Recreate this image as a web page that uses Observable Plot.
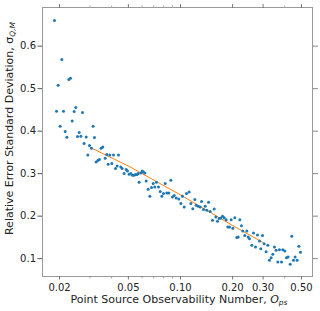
<!DOCTYPE html>
<html><head><meta charset="utf-8">
<script src="https://cdn.jsdelivr.net/npm/d3@7"></script>
<script src="https://cdn.jsdelivr.net/npm/@observablehq/plot@0.6"></script>
<style>body{margin:0;background:#fff}</style>
</head><body><div id="chart"></div>
<script>
const obsNumber = [
0.01871,0.01922,0.01965,0.02018,0.02063,0.02109,0.02157,0.02205,0.02264,0.02315,
0.02367,0.02430,0.02485,0.02541,0.02598,0.02656,0.02715,0.02776,0.02851,0.02915,
0.02980,0.03060,0.03129,0.03185,0.03256,0.03329,0.03404,0.03480,0.03558,0.03670,
0.03753,0.03820,0.03906,0.04011,0.04101,0.04212,0.04306,0.04383,0.04521,0.04602,
0.04726,0.04854,0.04941,0.05051,0.05165,0.05280,0.05399,0.05495,0.05619,0.05694,
0.05770,0.05899,0.06005,0.06112,0.06222,0.06334,0.06505,0.06651,0.06800,0.06952,
0.07108,0.07267,0.07463,0.07630,0.07801,0.07976,0.08155,0.08338,0.08562,0.08793,
0.08990,0.09192,0.09440,0.09781,0.1005,0.1027,0.1050,0.1083,0.1122,0.1148,
0.1178,0.1210,0.1232,0.1265,0.1299,0.1323,0.1358,0.1389,0.1420,0.1452,
0.1484,0.1531,0.1565,0.1600,0.1636,0.1673,0.1710,0.1749,0.1788,0.1836,
0.1877,0.1920,0.1962,0.2006,0.2060,0.2116,0.2154,0.2202,0.2251,0.2292,
0.2353,0.2417,0.2460,0.2504,0.2583,0.2641,0.2712,0.2785,0.2860,0.2911,
0.2977,0.3043,0.3125,0.3195,0.3267,0.3340,0.3415,0.3491,0.3569,0.3649,
0.3731,0.3832,0.3900,0.4005,0.4095,0.4187,0.4300,0.4396,0.4495,0.4595,
0.4721,0.4827,0.4935];
const relErrSD = [
0.6604,0.4469,0.5082,0.4116,0.5686,0.4469,0.3991,0.3857,0.5215,0.5246,
0.4242,0.4462,0.4556,0.3873,0.3967,0.3881,0.4438,0.3708,0.3865,0.3441,
0.3661,0.3598,0.4116,0.3849,0.3276,0.3308,0.3331,0.3598,0.3630,0.3363,
0.3449,0.3221,0.3441,0.3237,0.3441,0.3119,0.3182,0.3441,0.3159,0.3119,
0.3002,0.3096,0.3064,0.2986,0.3002,0.2962,0.2962,0.2978,0.2978,0.3002,
0.2797,0.3017,0.3064,0.3041,0.3017,0.2829,0.2633,0.2468,0.2672,0.2766,
0.2688,0.2797,0.2688,0.2578,0.2468,0.2531,0.2766,0.2546,0.2546,0.2845,
0.2452,0.2484,0.2429,0.2405,0.2295,0.2468,0.2217,0.2531,0.2570,0.2295,
0.2177,0.2389,0.2256,0.2232,0.2217,0.2342,0.2154,0.2232,0.2138,0.2327,
0.2107,0.1903,0.2170,0.1981,0.1879,0.1942,0.1958,0.1997,0.1965,0.1918,
0.1746,0.1746,0.1918,0.1714,0.1965,0.1495,0.1510,0.1918,0.1777,0.1652,
0.1542,0.1652,0.1510,0.1471,0.1314,0.1604,0.1275,0.1557,0.1416,0.1235,
0.1542,0.1353,0.1165,0.1314,0.0961,0.1024,0.1102,0.1275,0.1196,0.0922,
0.1212,0.0922,0.1212,0.1181,0.1024,0.1039,0.0867,0.1526,0.0961,0.1039,
0.0961,0.1290,0.1149];
const fitX = [0.03, 0.05, 0.1, 0.2, 0.3];
const fitY = [0.362, 0.318, 0.250, 0.178, 0.138];
const xTickValues = [0.02, 0.05, 0.1, 0.2, 0.3, 0.5];
const xTickLabels = ["0.02", "0.05", "0.10", "0.20", "0.30", "0.50"];
const xMinorTicks = [0.03, 0.04, 0.06, 0.07, 0.08, 0.09, 0.4];
const yTickValues = [0.1, 0.2, 0.3, 0.4, 0.5, 0.6];
const xLabel = "Point Source Observability Number, ";
const xLabelSym = "O";
const xLabelSub = "ps";
const yLabel = "Relative Error Standard Deviation, σ";
const yLabelSub = "Q,M";

const points = obsNumber.map((x, i) => ({x, y: relErrSD[i]}));
const fit = fitX.map((x, i) => ({x, y: fitY[i]}));
const xTicks = xTickValues.map((v, i) => ({v, label: xTickLabels[i]}));

const chart = Plot.plot({
  width: 320, height: 311,
  marginLeft: 42, marginRight: 8, marginTop: 7, marginBottom: 35,
  x: {type: "log", domain: [0.01595, 0.579]},
  y: {domain: [0.058, 0.691]},
  style: {fontFamily: "DejaVu Sans", fontSize: "10px", color: "#222", background: "#fff"},
  marks: [
    Plot.frame({stroke: "#999"}),
    Plot.axisX(xTickValues, {anchor: "bottom", tickSize: 3.5, fill: "none", label: null, stroke: "#777"}),
    Plot.axisX(xMinorTicks, {anchor: "bottom", tickSize: 2.3, fill: "none", label: null, stroke: "#999"}),
    Plot.text(xTicks, {x: "v", text: "label", frameAnchor: "bottom", lineAnchor: "top", dy: 7, fill: "#222"}),
    Plot.axisX(xTickValues, {anchor: "top", tickSize: 4, fill: "none", label: null, stroke: "#777"}),
    Plot.axisX(xMinorTicks, {anchor: "top", tickSize: 2.5, fill: "none", label: null, stroke: "#aaa"}),
    Plot.axisY(yTickValues, {anchor: "left", tickSize: 4.5, tickPadding: 2, tickFormat: d => d.toFixed(1), label: null, stroke: "#555", fill: "#222"}),
    Plot.axisY(yTickValues, {anchor: "right", tickSize: 5, fill: "none", label: null, stroke: "#888"}),
    Plot.line(fit, {x: "x", y: "y", stroke: "#ff7f0e", strokeWidth: 1}),
    Plot.dot(points, {x: "x", y: "y", r: 1.5, fill: "#1f77b4", stroke: "none"})
  ]
});
document.getElementById("chart").appendChild(chart);

const svg = d3.select(chart);
const xl = svg.append("text").attr("x", 179).attr("y", 303)
  .attr("text-anchor", "middle").attr("fill", "#222").attr("font-size", 11);
xl.append("tspan").text(xLabel);
xl.append("tspan").attr("font-style", "italic").text(xLabelSym);
xl.append("tspan").attr("font-style", "italic").attr("font-size", 7.5).attr("dy", 2).text(xLabelSub);

const yl = svg.append("text").attr("transform", "translate(12.5,128.5) rotate(-90)")
  .attr("text-anchor", "middle").attr("fill", "#222").attr("font-size", 11);
yl.append("tspan").text(yLabel);
yl.append("tspan").attr("font-style", "italic").attr("font-size", 7.5).attr("dy", 2).text(yLabelSub);
</script>
</body></html>
